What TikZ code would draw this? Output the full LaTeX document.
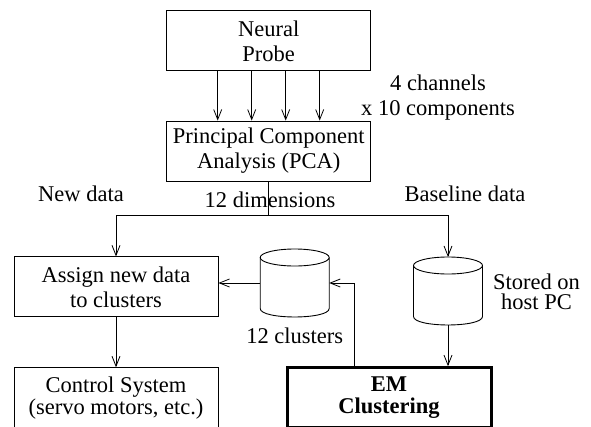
\documentclass[tikz,border=0pt]{standalone}
\usepackage{fontspec}
\setmainfont{Liberation Serif}
\usetikzlibrary{arrows.meta}
\begin{document}
\begin{tikzpicture}[x=1pt,y=-1pt,
  every node/.style={font=\fontsize{22.5}{25}\selectfont},
  box/.style={draw, line width=0.9pt, minimum width=204pt, minimum height=60pt,
              align=center, inner sep=0pt},
  thickbox/.style={box, line width=3pt},
  store/.style={minimum width=69pt, minimum height=68pt, inner sep=0pt, outer sep=0pt},
  storeline/.style={line width=0.9pt},
  arr/.style={draw, line width=0.8pt, -{Straight Barb[length=10pt,width=8pt]}},
  lbl/.style={anchor=base, inner sep=0pt}
]
\path[use as bounding box, clip] (0,0) rectangle (591,426);

% processing blocks
\node[box] (probe)   at (268.7,40.85) {Neural\\Probe};
\node[box] (pca)     at (268.7,151)   {Principal Component\\Analysis (PCA)};
\node[box] (assign)  at (116,286.85)  {Assign new data\\to clusters};
\node[box] (control) at (116,397.7)   {Control System\\[-3pt](servo motors, etc.)};
\node[thickbox] (em) at (389,397.7)   {\bfseries EM\\[-3pt]\bfseries Clustering};

% data stores (drum outlines drawn from the node frame)
\node[store] (c1) at (294.7,283) {};
\node[store] (c2) at (448,291) {};
\foreach \c in {c1,c2} {
  \draw[storeline] ([yshift=-8.5pt]\c.north) ellipse [x radius=34.5pt, y radius=8.5pt];
  \draw[storeline] ([yshift=-8.5pt]\c.north west) -- ([yshift=8.5pt]\c.south west)
    .. controls ([yshift=-2.8pt]\c.south west) and ([yshift=-2.8pt]\c.south east)
    .. ([yshift=8.5pt]\c.south east) -- ([yshift=-8.5pt]\c.north east);
}

% probe channels into PCA
\foreach \dx in {-51,-17,17,51}
  \draw[arr] ([xshift=\dx pt]probe.south) -- ([xshift=\dx pt]pca.north);

% split of the PCA output
\coordinate (split) at (268.7,215);
\draw[line width=0.8pt] (pca.south) -- (split);
\draw[arr] (split) -| (assign.north);
\draw[arr] (split) -| (c2.north);

\draw[arr] (assign.south) -- (control.north);
\draw[arr] (c1.west) -- (c1.west -| assign.east);
\coordinate (emtap) at ([xshift=-34.6pt]em.north);
\draw[arr] (emtap) |- (c1.east);
\draw[arr] (c2.south) -- (c2.south |- em.north);

% labels
\node[lbl] (chan)  at (438,90)    {4 channels};
\node[lbl] (comp)  at (438,115)   {x 10 components};
\node[lbl] (newd)  at (81,201)    {New data};
\node[lbl] (dims)  at (270,207)   {12 dimensions};
\node[lbl] (base)  at (465,201)   {Baseline data};
\node[lbl] (stor1) at (536.5,289) {Stored on};
\node[lbl] (stor2) at (536.5,309.7) {host PC};
\node[lbl] (clus)  at (294.7,343.5) {12 clusters};
\end{tikzpicture}
\end{document}
